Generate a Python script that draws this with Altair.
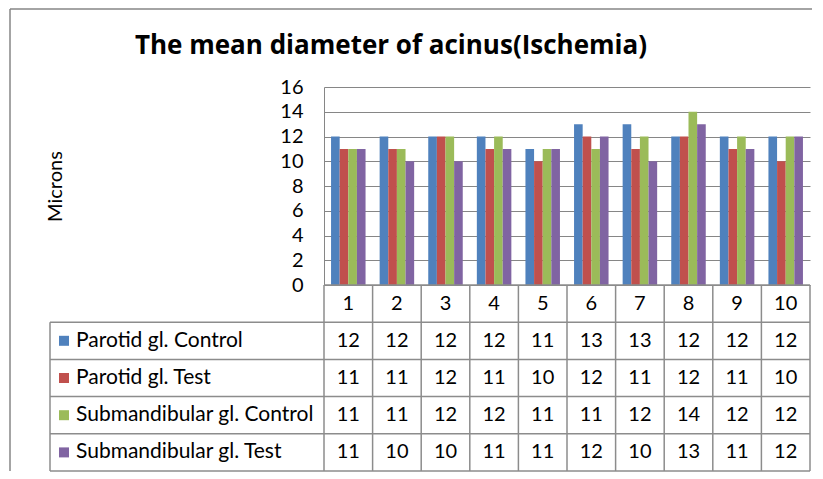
import altair as alt
import pandas as pd

# ---------------- data ----------------
categories = ["1", "2", "3", "4", "5", "6", "7", "8", "9", "10"]
series_names = [
    "Parotid gl. Control",
    "Parotid gl. Test",
    "Submandibular gl. Control",
    "Submandibular gl. Test",
]
parotid_control = [12, 12, 12, 12, 11, 13, 13, 12, 12, 12]
parotid_test = [11, 11, 12, 11, 10, 12, 11, 12, 11, 10]
submand_control = [11, 11, 12, 12, 11, 11, 12, 14, 12, 12]
submand_test = [11, 10, 10, 11, 11, 12, 10, 13, 11, 12]
series_colors = ["#4F81BD", "#C0504D", "#9BBB59", "#8064A2"]
y_ticks = [0, 2, 4, 6, 8, 10, 12, 14, 16]
title_text = "The mean diameter of acinus(Ischemia)"
y_title = "Microns"

# ---------------- layout constants ----------------
FONT = "Lato"
TITLE_FONT = "Open Sans"
PLOT_W = 486
PLOT_H = 198
TABLE_H = 186
LABEL_W = 274
GRID = "#868686"
TBL = "#8c8c8c"

n = len(categories)
n_rows = len(series_names) + 1
label_units = LABEL_W / (PLOT_W / n)

all_values = [parotid_control, parotid_test, submand_control, submand_test]
records = []
for si, (name, vals) in enumerate(zip(series_names, all_values)):
    for ci, (cat, v) in enumerate(zip(categories, vals)):
        records.append(
            {"cat": cat, "series": name, "value": v, "col": ci + 0.5, "row": si + 1.5}
        )
df = pd.DataFrame(records)

color_scale = alt.Scale(domain=series_names, range=series_colors)

# ---------------- top: bar chart ----------------
bars = alt.Chart(df).mark_bar().encode(
    x=alt.X(
        "cat:N",
        sort=categories,
        axis=None,
        scale=alt.Scale(paddingInner=0.29, paddingOuter=0.145),
    ),
    xOffset=alt.XOffset(
        "series:N", sort=series_names, scale=alt.Scale(paddingInner=0, paddingOuter=0)
    ),
    y=alt.Y(
        "value:Q",
        scale=alt.Scale(domain=[0, 16], nice=False),
        axis=alt.Axis(
            values=y_ticks,
            title=y_title,
            grid=True,
            gridColor=GRID,
            gridWidth=1,
            gridOpacity=1,
            domain=True,
            domainColor=GRID,
            domainWidth=1,
            ticks=False,
            tickSize=0,
            labelPadding=21,
            labelFont=FONT,
            labelFontSize=20,
            labelColor="black",
            titleFont=FONT,
            titleFontSize=20,
            titleFontWeight="normal",
            titleColor="black",
            minExtent=46,
            maxExtent=46,
            titlePadding=213,
        ),
    ),
    color=alt.Color("series:N", scale=color_scale, legend=None),
)

title_layer = alt.Chart(pd.DataFrame({"t": [title_text]})).mark_text(
    font=TITLE_FONT, fontSize=26, fontWeight="bold", color="black",
    align="center", baseline="alphabetic",
).encode(text="t:N", x=alt.value(67), y=alt.value(-33))

frame_df = pd.DataFrame({"k": [0]})
frame_v = alt.Chart(frame_df).mark_rule(color=GRID, strokeWidth=1.5).encode(
    x=alt.value(-314), y=alt.value(-78), y2=alt.value(PLOT_H + TABLE_H)
)
frame_h = alt.Chart(frame_df).mark_rule(color=GRID, strokeWidth=1.5).encode(
    x=alt.value(-314), x2=alt.value(488), y=alt.value(-78)
)

top = alt.layer(bars, title_layer, frame_v, frame_h).properties(
    width=PLOT_W, height=PLOT_H
)

# ---------------- bottom: data table ----------------
xq = alt.Scale(domain=[0, n], nice=False, zero=False)
yq = alt.Scale(domain=[0, n_rows], nice=False, zero=False, reverse=True)

vlines_df = pd.DataFrame({"b": list(range(n + 1))})
vlines = alt.Chart(vlines_df).mark_rule(color=TBL, strokeWidth=1.5).encode(
    x=alt.X("b:Q", scale=xq, axis=None)
)

hlines_df = pd.DataFrame(
    {
        "yb": list(range(n_rows + 1)),
        "x0": [0.0] + [-label_units] * n_rows,
        "x1": [float(n)] * (n_rows + 1),
    }
)
hlines = alt.Chart(hlines_df).mark_rule(color=TBL, strokeWidth=1.5).encode(
    y=alt.Y("yb:Q", scale=yq, axis=None),
    x=alt.X("x0:Q", scale=xq, axis=None),
    x2="x1:Q",
)

left_df = pd.DataFrame({"xl": [-label_units], "y0": [1], "y1": [n_rows]})
left_border = alt.Chart(left_df).mark_rule(color=TBL, strokeWidth=1.5).encode(
    x=alt.X("xl:Q", scale=xq, axis=None),
    y=alt.Y("y0:Q", scale=yq, axis=None),
    y2="y1:Q",
)

header_df = pd.DataFrame(
    {"cat": categories, "col": [i + 0.5 for i in range(n)], "row": [0.5] * n}
)
header = alt.Chart(header_df).mark_text(
    font=FONT, fontSize=20, color="black", align="center", baseline="middle"
).encode(
    x=alt.X("col:Q", scale=xq, axis=None),
    y=alt.Y("row:Q", scale=yq, axis=None),
    text="cat:N",
)

cells = alt.Chart(df).mark_text(
    font=FONT, fontSize=20, color="black", align="center", baseline="middle"
).encode(
    x=alt.X("col:Q", scale=xq, axis=None),
    y=alt.Y("row:Q", scale=yq, axis=None),
    text="value:Q",
)

legend_df = pd.DataFrame(
    {"series": series_names, "row": [i + 1.5 for i in range(len(series_names))]}
)
squares = alt.Chart(legend_df).mark_square(size=100, opacity=1).encode(
    x=alt.value(-260),
    y=alt.Y("row:Q", scale=yq, axis=None),
    color=alt.Color("series:N", scale=color_scale, legend=None),
)
labels = alt.Chart(legend_df).mark_text(
    font=FONT, fontSize=21, color="black", align="left", baseline="middle"
).encode(
    x=alt.value(-248),
    y=alt.Y("row:Q", scale=yq, axis=None),
    text="series:N",
)

table = alt.layer(vlines, hlines, left_border, header, cells, squares, labels).properties(
    width=PLOT_W, height=TABLE_H
)

chart = (
    alt.vconcat(top, table, spacing=0, bounds="flush")
    .resolve_scale(x="independent", y="independent", color="shared")
    .properties(padding={"left": 1, "top": 0, "right": 0, "bottom": 0})
    .configure_view(stroke=None)
)

chart.save("out.html", embed_options={"renderer": "svg", "actions": False})
